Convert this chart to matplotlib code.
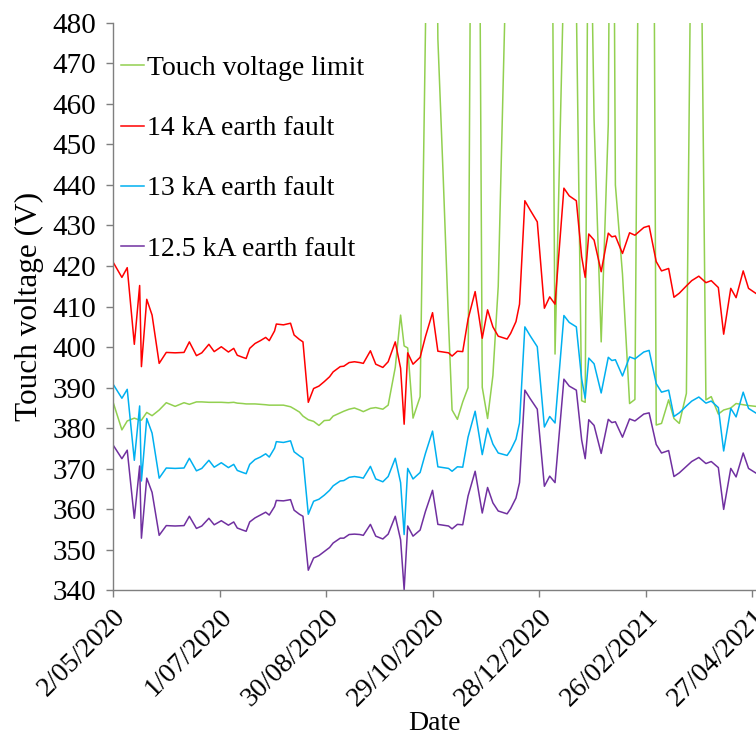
"""Touch voltage vs date for three earth fault levels against the touch voltage limit."""

import datetime as dt
import matplotlib
matplotlib.use("Agg")
import matplotlib.pyplot as plt

plt.rcParams["font.family"] = ["Liberation Serif", "DejaVu Serif"]

start = dt.date(2020, 5, 2)

# sample days counted from 2/05/2020
days = [0, 5, 8, 12, 15, 16, 19, 22, 26, 30,
        35, 40, 43, 47, 50, 54, 57, 61, 65, 68,
        70, 73, 75, 77, 80, 83, 86, 88, 91, 92,
        96, 100, 102, 105, 107, 110, 113, 116, 119, 122,
        124, 128, 130, 133, 136, 139, 141, 145, 148, 152,
        155, 159, 162, 164, 166, 169, 173, 176, 180, 183,
        186, 189, 191, 194, 197, 200, 204, 208, 211, 214,
        217, 222, 224, 227, 229, 232, 235, 239, 243, 246,
        249, 254, 257, 261, 264, 266, 268, 271, 275, 279,
        281, 283, 287, 291, 294, 299, 302, 306, 309, 313,
        316, 319, 323, 326, 330, 334, 337, 341, 344, 348,
        351, 355, 358, 362]

limit = [386.5, 379.6, 381.8, 382.5, 382.0, 382.0, 383.9, 383.1, 384.5, 386.3,
         385.4, 386.3, 385.9, 386.5, 386.5, 386.4, 386.4, 386.4, 386.3, 386.4,
         386.2, 386.1, 386.0, 386.0, 386.0, 385.9, 385.8, 385.7, 385.7, 385.7,
         385.7, 385.3, 384.8, 384.0, 383.0, 382.1, 381.7, 380.7, 381.9, 382.0,
         383.0, 383.8, 384.2, 384.7, 385.0, 384.5, 384.1, 384.9, 385.1, 384.7,
         385.7, 395.0, 407.9, 400.3, 399.8, 382.5, 387.8, 478.0, 620.0, 476.0,
         442.0, 406.0, 384.5, 382.2, 386.5, 390.0, 703.0, 390.1, 382.4, 393.0,
         415.0, 505.0, 560.0, 620.0, 680.0, 720.0, 700.0, 680.0, 640.0, 602.0,
         398.3, 493.0, 560.0, 485.0, 386.8, 386.4, 540.0, 456.0, 401.3, 455.0,
         600.0, 440.0, 418.0, 386.1, 387.1, 683.0, 770.0, 380.8, 381.2, 387.0,
         382.4, 381.2, 388.6, 522.0, 559.0, 387.0, 387.8, 383.5, 384.5, 385.0,
         386.1, 385.8, 385.6, 385.4]

fault_14 = [421.0, 417.2, 419.6, 400.7, 415.2, 395.2, 411.8, 407.9, 396.0, 398.7,
            398.6, 398.7, 401.3, 397.9, 398.6, 400.7, 398.9, 400.1, 398.8, 399.7,
            398.0, 397.5, 397.2, 399.7, 400.9, 401.6, 402.4, 401.6, 404.0, 405.7,
            405.5, 405.9, 403.0, 401.9, 401.3, 386.4, 389.8, 390.4, 391.5, 392.7,
            393.9, 395.2, 395.3, 396.2, 396.4, 396.2, 396.0, 399.1, 395.8, 395.0,
            396.4, 401.3, 394.8, 381.0, 398.6, 395.8, 397.5, 402.6, 408.5, 399.0,
            398.8, 398.6, 397.8, 399.0, 398.9, 406.9, 413.7, 402.2, 409.2, 405.0,
            402.7, 402.0, 403.4, 406.3, 410.6, 436.1, 433.8, 430.9, 409.6, 412.4,
            410.6, 439.2, 437.3, 436.1, 422.3, 417.2, 427.9, 426.4, 418.6, 428.1,
            427.2, 427.4, 423.1, 428.2, 427.6, 429.5, 429.9, 421.1, 418.8, 419.4,
            412.3, 413.3, 415.1, 416.4, 417.5, 415.9, 416.4, 414.7, 403.2, 414.5,
            412.2, 418.8, 414.5, 413.3]

fault_13 = [390.9, 387.4, 389.6, 372.1, 385.5, 367.0, 382.4, 378.8, 367.7, 370.2,
            370.1, 370.2, 372.6, 369.5, 370.1, 372.1, 370.4, 371.5, 370.3, 371.1,
            369.6, 369.1, 368.8, 371.1, 372.3, 372.9, 373.7, 372.9, 375.1, 376.7,
            376.5, 376.9, 374.2, 373.2, 372.6, 358.8, 362.0, 362.5, 363.5, 364.7,
            365.8, 367.0, 367.1, 367.9, 368.1, 367.9, 367.7, 370.6, 367.5, 366.8,
            368.1, 372.6, 366.6, 353.8, 370.1, 367.5, 369.1, 373.8, 379.3, 370.5,
            370.3, 370.1, 369.4, 370.5, 370.4, 377.8, 384.2, 373.5, 380.0, 376.1,
            373.9, 373.3, 374.6, 377.3, 381.3, 405.0, 402.8, 400.1, 380.3, 382.9,
            381.3, 407.8, 406.1, 405.0, 392.1, 387.4, 397.3, 395.9, 388.7, 397.5,
            396.7, 396.9, 392.9, 397.6, 397.1, 398.8, 399.2, 391.0, 388.9, 389.4,
            382.9, 383.8, 385.5, 386.7, 387.7, 386.2, 386.7, 385.1, 374.4, 384.9,
            382.8, 388.9, 384.9, 383.8]

fault_125 = [375.9, 372.5, 374.6, 357.8, 370.7, 352.9, 367.7, 364.2, 353.6, 356.0,
             355.9, 356.0, 358.3, 355.3, 355.9, 357.8, 356.2, 357.2, 356.1, 356.9,
             355.4, 354.9, 354.6, 356.9, 357.9, 358.6, 359.3, 358.6, 360.7, 362.2,
             362.1, 362.4, 359.8, 358.8, 358.3, 345.0, 348.0, 348.6, 349.6, 350.6,
             351.7, 352.9, 352.9, 353.8, 353.9, 353.8, 353.6, 356.3, 353.4, 352.7,
             353.9, 358.3, 352.5, 340.2, 355.9, 353.4, 354.9, 359.5, 364.7, 356.3,
             356.1, 355.9, 355.2, 356.3, 356.2, 363.3, 369.4, 359.1, 365.4, 361.6,
             359.6, 358.9, 360.2, 362.8, 366.6, 389.4, 387.3, 384.7, 365.7, 368.2,
             366.6, 392.1, 390.4, 389.4, 377.1, 372.5, 382.1, 380.7, 373.8, 382.2,
             381.4, 381.6, 377.8, 382.3, 381.8, 383.5, 383.8, 376.0, 373.9, 374.5,
             368.1, 369.0, 370.6, 371.8, 372.8, 371.3, 371.8, 370.3, 360.0, 370.1,
             368.0, 373.9, 370.1, 369.0]

series = [
    (limit, "#92D050", "Touch voltage limit"),
    (fault_14, "#FF0000", "14 kA earth fault"),
    (fault_13, "#00B0F0", "13 kA earth fault"),
    (fault_125, "#7030A0", "12.5 kA earth fault"),
]

dates = [start + dt.timedelta(days=d) for d in days]
tick_dates = [start + dt.timedelta(days=60 * k) for k in range(7)]

fig = plt.figure(figsize=(7.56, 7.42), dpi=100)
ax = fig.add_axes([0.1495, 0.2042, 0.850, 0.7652])

for vals, c, lab in series:
    ax.plot(dates, vals, color=c, lw=1.1, label=lab)

ax.set_ylim(340, 480)
ax.set_yticks(range(340, 481, 10))
ax.set_xlim(start, start + dt.timedelta(days=362.1))
ax.set_xticks(tick_dates)
ax.set_xticklabels([f"{d.day}/{d.month:02d}/{d.year}" for d in tick_dates],
                   rotation=45, ha="right", va="top", rotation_mode="anchor")

for s in ("top", "right"):
    ax.spines[s].set_visible(False)
for s in ("left", "bottom"):
    ax.spines[s].set_color("#7f7f7f")
    ax.spines[s].set_linewidth(1.0)
ax.tick_params(direction="out", length=5, width=1.0, color="#7f7f7f")
ax.tick_params(axis="y", pad=7, labelsize=21)
ax.tick_params(axis="x", pad=5, labelsize=20)

ax.set_xlabel("Date", fontsize=20, labelpad=0)
ax.set_ylabel("Touch voltage (V)", fontsize=22.5, labelpad=6)

ax.legend(loc="upper left", bbox_to_anchor=(0.0124, 0.942), frameon=False,
          fontsize=20, handlelength=0.83, handletextpad=0.1,
          labelspacing=1.25, borderaxespad=0, borderpad=0)

fig.savefig("out.png", dpi=100)
